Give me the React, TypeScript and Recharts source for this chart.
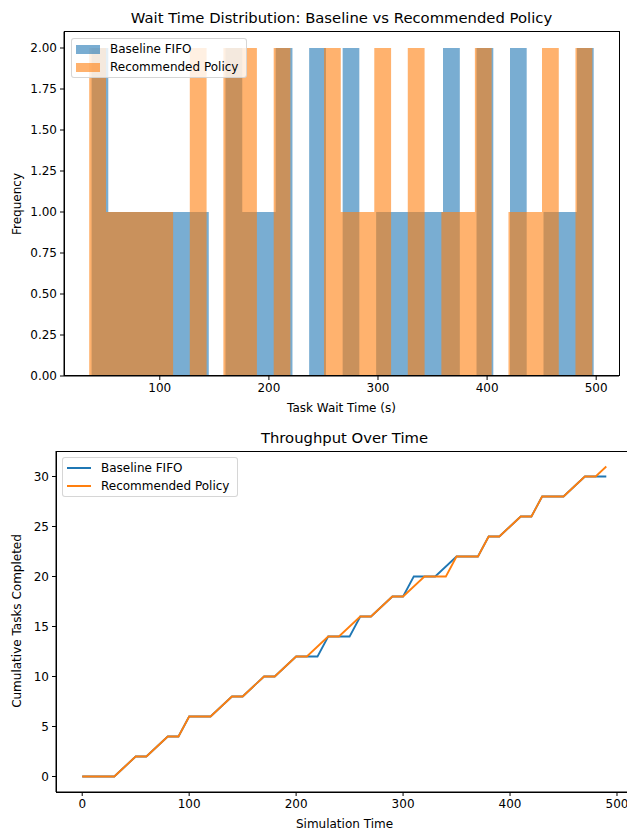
import React from 'react';
import { ComposedChart, LineChart, Area, Line, XAxis, YAxis } from 'recharts';

// histogram bin edges (30 bins each) and counts
const BASELINE_EDGES = [37.5, 52.8, 68.2, 83.5, 98.9, 114.2, 129.5, 144.9, 160.2, 175.6, 190.9, 206.2, 221.6, 236.9, 252.3, 267.6, 282.9, 298.3, 313.6, 329.0, 344.3, 359.6, 375.0, 390.3, 405.7, 421.0, 436.3, 451.7, 467.0, 482.4, 497.7];
const BASELINE_COUNTS = [2, 1, 1, 1, 1, 1, 1, 0, 2, 1, 1, 2, 0, 2, 0, 2, 0, 1, 1, 1, 1, 2, 0, 2, 0, 2, 0, 1, 1, 2];
const RECOMMENDED_EDGES = [35.3, 50.7, 66.0, 81.4, 96.8, 112.2, 127.5, 142.9, 158.3, 173.6, 189.0, 204.4, 219.7, 235.1, 250.5, 265.9, 281.2, 296.6, 312.0, 327.3, 342.7, 358.1, 373.4, 388.8, 404.2, 419.6, 434.9, 450.3, 465.7, 481.0, 496.4];
const RECOMMENDED_COUNTS = [2, 1, 1, 1, 1, 0, 2, 0, 2, 2, 0, 2, 0, 0, 2, 1, 1, 2, 0, 2, 0, 1, 1, 2, 0, 1, 1, 2, 0, 2];
const HIST_X_TICKS = [100, 200, 300, 400, 500];
const HIST_Y_TICKS = [0, 0.25, 0.5, 0.75, 1, 1.25, 1.5, 1.75, 2];

// throughput: cumulative tasks sampled every 10 time units
const TIMES = [0, 10, 20, 30, 40, 50, 60, 70, 80, 90, 100, 110, 120, 130, 140, 150, 160, 170, 180, 190, 200, 210, 220, 230, 240, 250, 260, 270, 280, 290, 300, 310, 320, 330, 340, 350, 360, 370, 380, 390, 400, 410, 420, 430, 440, 450, 460, 470, 480, 490];
const BASELINE_DONE = [0, 0, 0, 0, 1, 2, 2, 3, 4, 4, 6, 6, 6, 7, 8, 8, 9, 10, 10, 11, 12, 12, 12, 14, 14, 14, 16, 16, 17, 18, 18, 20, 20, 20, 21, 22, 22, 22, 24, 24, 25, 26, 26, 28, 28, 28, 29, 30, 30, 30];
const RECOMMENDED_DONE = [0, 0, 0, 0, 1, 2, 2, 3, 4, 4, 6, 6, 6, 7, 8, 8, 9, 10, 10, 11, 12, 12, 13, 14, 14, 15, 16, 16, 17, 18, 18, 19, 20, 20, 20, 22, 22, 22, 24, 24, 25, 26, 26, 28, 28, 28, 29, 30, 30, 31];
const TP_X_TICKS = [0, 100, 200, 300, 400, 500];
const TP_Y_TICKS = [0, 5, 10, 15, 20, 25, 30];

const BLUE = '#1f77b4';
const ORANGE = '#ff7f0e';
const FONT = '"DejaVu Sans", sans-serif';

const toSteps = (edges: number[], counts: number[]) =>
  edges.map((x, i) => ({ x, y: counts[Math.min(i, counts.length - 1)] }));

const baselineSteps = toSteps(BASELINE_EDGES, BASELINE_COUNTS);
const recommendedSteps = toSteps(RECOMMENDED_EDGES, RECOMMENDED_COUNTS);
const throughput = TIMES.map((t, i) => ({ t, base: BASELINE_DONE[i], rec: RECOMMENDED_DONE[i] }));

const tick = { fill: '#000', fontSize: 12, fontFamily: FONT };
const axisLine = { stroke: '#000', strokeWidth: 1 };
const tickLine = { stroke: '#000', strokeWidth: 1 };

const text = (style: React.CSSProperties): React.CSSProperties => ({
  position: 'absolute', fontFamily: FONT, color: '#000', whiteSpace: 'nowrap', ...style,
});

// spines box drawn over the plot area (matplotlib draws all four sides)
const frame = (left: number, top: number, width: number, height: number): React.CSSProperties => ({
  position: 'absolute', left: left - 0.5, top: top - 0.5, width: width + 1, height: height + 1,
  border: '1px solid #000', boxSizing: 'border-box', pointerEvents: 'none',
});

const legendBox: React.CSSProperties = {
  position: 'absolute', width: 176, height: 40, boxSizing: 'border-box',
  background: 'rgba(255,255,255,0.8)', border: '1px solid rgba(204,204,204,0.8)', borderRadius: 3,
};

const LegendRow = ({ top, label, kind, color }: { top: number; label: string; kind: 'patch' | 'line'; color: string }) => (
  <div style={{ position: 'absolute', left: 4, top, height: 14, display: 'flex', alignItems: 'center' }}>
    {kind === 'patch'
      ? <div style={{ width: 24, height: 9, background: color, opacity: 0.6 }} />
      : <div style={{ width: 24, height: 2, background: color }} />}
    <span style={{ marginLeft: 10, fontFamily: FONT, fontSize: 12, lineHeight: '14px' }}>{label}</span>
  </div>
);

export default function App() {
  return (
    <div style={{ position: 'absolute', left: 0, top: 0, width: 627, height: 832, overflow: 'hidden', background: '#fff' }}>
      {/* top: wait time histogram */}
      <div style={{ position: 'absolute', left: 0, top: 0 }}>
        <ComposedChart width={627} height={420} margin={{ top: 31.6, right: 8, bottom: 14, left: 0 }}>
          <XAxis type="number" dataKey="x" domain={[12.2, 520.9]} ticks={HIST_X_TICKS} allowDataOverflow
            height={30} tick={tick} axisLine={axisLine} tickLine={tickLine} tickSize={4} tickMargin={3} />
          <YAxis type="number" domain={[0, 2.1]} ticks={HIST_Y_TICKS} allowDataOverflow width={64}
            tickFormatter={(v: number) => v.toFixed(2)} tick={tick} axisLine={axisLine} tickLine={tickLine} tickSize={4} tickMargin={3} />
          <Area data={baselineSteps} dataKey="y" type="stepAfter" stroke="none" fill={BLUE} fillOpacity={0.6} isAnimationActive={false} />
          <Area data={recommendedSteps} dataKey="y" type="stepAfter" stroke="none" fill={ORANGE} fillOpacity={0.6} isAnimationActive={false} />
        </ComposedChart>
      </div>
      <div style={frame(64, 31.6, 555, 344.4)} />
      <div style={text({ left: 64, width: 555, top: 9, textAlign: 'center', fontSize: 14.8, lineHeight: '18px' })}>
        Wait Time Distribution: Baseline vs Recommended Policy
      </div>
      <div style={text({ left: 64, width: 555, top: 401, textAlign: 'center', fontSize: 12, lineHeight: '14px' })}>
        Task Wait Time (s)
      </div>
      <div style={text({ left: 17, top: 204, fontSize: 12, lineHeight: '14px', transform: 'translate(-50%, -50%) rotate(-90deg)' })}>
        Frequency
      </div>
      <div style={{ ...legendBox, left: 71, top: 38 }}>
        <LegendRow top={3} label="Baseline FIFO" kind="patch" color={BLUE} />
        <LegendRow top={21} label="Recommended Policy" kind="patch" color={ORANGE} />
      </div>

      {/* bottom: throughput over time */}
      <div style={{ position: 'absolute', left: 0, top: 420 }}>
        <LineChart width={660} height={412} data={throughput} margin={{ top: 31, right: 27.5, bottom: 10, left: 0 }}>
          <XAxis type="number" dataKey="t" domain={[-24.5, 514.5]} ticks={TP_X_TICKS} allowDataOverflow
            height={30} tick={tick} axisLine={axisLine} tickLine={tickLine} tickSize={4} tickMargin={3} />
          <YAxis type="number" domain={[-1.55, 32.55]} ticks={TP_Y_TICKS} allowDataOverflow width={56}
            tick={tick} axisLine={axisLine} tickLine={tickLine} tickSize={4} tickMargin={3} />
          <Line dataKey="base" type="linear" stroke={BLUE} strokeWidth={1.8} dot={false} isAnimationActive={false} />
          <Line dataKey="rec" type="linear" stroke={ORANGE} strokeWidth={1.8} dot={false} isAnimationActive={false} />
        </LineChart>
      </div>
      <div style={frame(56, 451, 576.5, 341)} />
      <div style={text({ left: 56, width: 577, top: 429, textAlign: 'center', fontSize: 14.8, lineHeight: '18px' })}>
        Throughput Over Time
      </div>
      <div style={text({ left: 56, width: 577, top: 817, textAlign: 'center', fontSize: 12, lineHeight: '14px' })}>
        Simulation Time
      </div>
      <div style={text({ left: 17, top: 621, fontSize: 12, lineHeight: '14px', transform: 'translate(-50%, -50%) rotate(-90deg)' })}>
        Cumulative Tasks Completed
      </div>
      <div style={{ ...legendBox, left: 62, top: 457 }}>
        <LegendRow top={3} label="Baseline FIFO" kind="line" color={BLUE} />
        <LegendRow top={21} label="Recommended Policy" kind="line" color={ORANGE} />
      </div>
    </div>
  );
}
